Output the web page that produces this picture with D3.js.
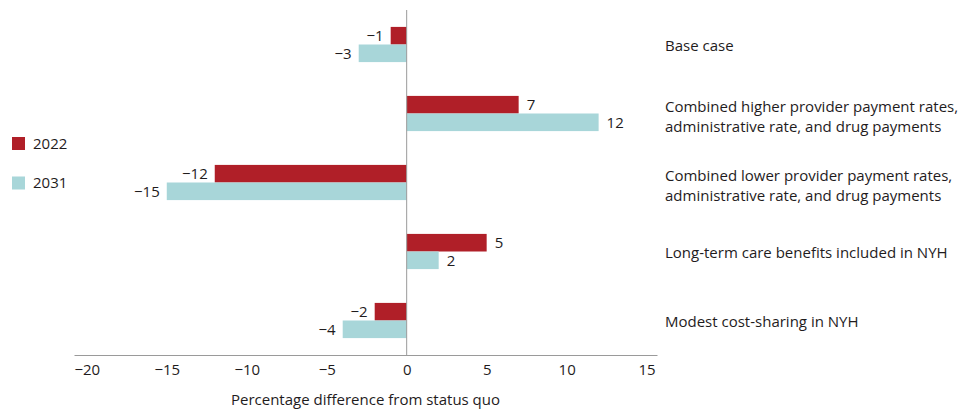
<!DOCTYPE html>
<html>
<head>
<meta charset="utf-8">
<script src="https://cdn.jsdelivr.net/npm/d3@7"></script>
<style>
  html, body { margin: 0; padding: 0; background: #fff; }
  svg { display: block; font-family: "Open Sans", "Noto Sans", sans-serif; }
</style>
</head>
<body>
<svg id="chart" width="963" height="409"></svg>
<script>
// Scenario labels (one array entry per text line)
const scenarios = [
  ["Base case"],
  ["Combined higher provider payment rates,", "administrative rate, and drug payments"],
  ["Combined lower provider payment rates,", "administrative rate, and drug payments"],
  ["Long-term care benefits included in NYH"],
  ["Modest cost-sharing in NYH"]
];
const years = ["2022", "2031"];
const values2022 = [-1, 7, -12, 5, -2];
const values2031 = [-3, 12, -15, 2, -4];
const tickValues = [-20, -15, -10, -5, 0, 5, 10, 15];
const axisTitle = "Percentage difference from status quo";

const colors = { "2022": "#b01f28", "2031": "#a8d6d9" };
const textColor = "#1f1c1d";
const fontSize = 15;

const svg = d3.select("#chart");

const x = d3.scaleLinear().domain([-20.8, 15.65]).range([74, 657]);
const y = d3.scaleBand().domain(d3.range(scenarios.length)).range([10, 355]).paddingInner(0.49).paddingOuter(0.245);
const ySub = d3.scaleBand().domain(years).range([0, y.bandwidth()]);

const fmt = d3.format("d");

// Bars and their value labels
const series = [values2022, values2031];
years.forEach((yr, si) => {
  const vals = series[si];
  svg.append("g").selectAll("rect").data(vals).join("rect")
    .attr("x", d => x(Math.min(0, d)))
    .attr("y", (d, i) => y(i) + ySub(yr))
    .attr("width", d => Math.abs(x(d) - x(0)))
    .attr("height", ySub.bandwidth())
    .attr("fill", colors[yr]);

  svg.append("g").selectAll("text").data(vals).join("text")
    .attr("x", d => d < 0 ? x(d) - 7 : x(d) + 8)
    .attr("y", (d, i) => y(i) + ySub(yr) + ySub.bandwidth() / 2)
    .attr("dy", "0.35em")
    .attr("text-anchor", d => d < 0 ? "end" : "start")
    .attr("font-size", fontSize)
    .attr("fill", textColor)
    .text(d => fmt(d));
});

// Zero reference line
svg.append("line")
  .attr("x1", x(0)).attr("x2", x(0))
  .attr("y1", 10).attr("y2", 355)
  .attr("stroke", "#9a9a9a").attr("stroke-width", 1);

// Bottom axis
const axis = d3.axisBottom(x).tickValues(tickValues).tickSize(0).tickPadding(9).tickFormat(fmt);
const gx = svg.append("g").attr("transform", "translate(0,355)").call(axis);
gx.select(".domain").attr("stroke", "#9a9a9a");
gx.selectAll(".tick text")
  .attr("font-size", fontSize)
  .attr("font-family", "\"Open Sans\", sans-serif")
  .attr("fill", textColor);

svg.append("text")
  .attr("x", (x.range()[0] + x.range()[1]) / 2)
  .attr("y", 405)
  .attr("text-anchor", "middle")
  .attr("font-size", fontSize)
  .attr("fill", textColor)
  .text(axisTitle);

// Scenario labels on the right
const lineH = 19.5;
scenarios.forEach((lines, i) => {
  const cy = y(i) + y.bandwidth() / 2 + (lines.length > 1 ? 3 : 1);
  const t = svg.append("text")
    .attr("x", 665)
    .attr("font-size", fontSize)
    .attr("fill", textColor);
  lines.forEach((ln, j) => {
    t.append("tspan")
      .attr("x", 665)
      .attr("y", cy + (j - (lines.length - 1) / 2) * lineH)
      .attr("dy", "0.35em")
      .text(ln);
  });
});

// Legend
const legend = svg.append("g");
years.forEach((yr, i) => {
  const ly = 137 + i * 39.5;
  legend.append("rect")
    .attr("x", 12).attr("y", ly)
    .attr("width", 13).attr("height", 13)
    .attr("fill", colors[yr]);
  legend.append("text")
    .attr("x", 33).attr("y", ly + 6.5)
    .attr("dy", "0.35em")
    .attr("font-size", fontSize)
    .attr("fill", textColor)
    .text(yr);
});
</script>
</body>
</html>
